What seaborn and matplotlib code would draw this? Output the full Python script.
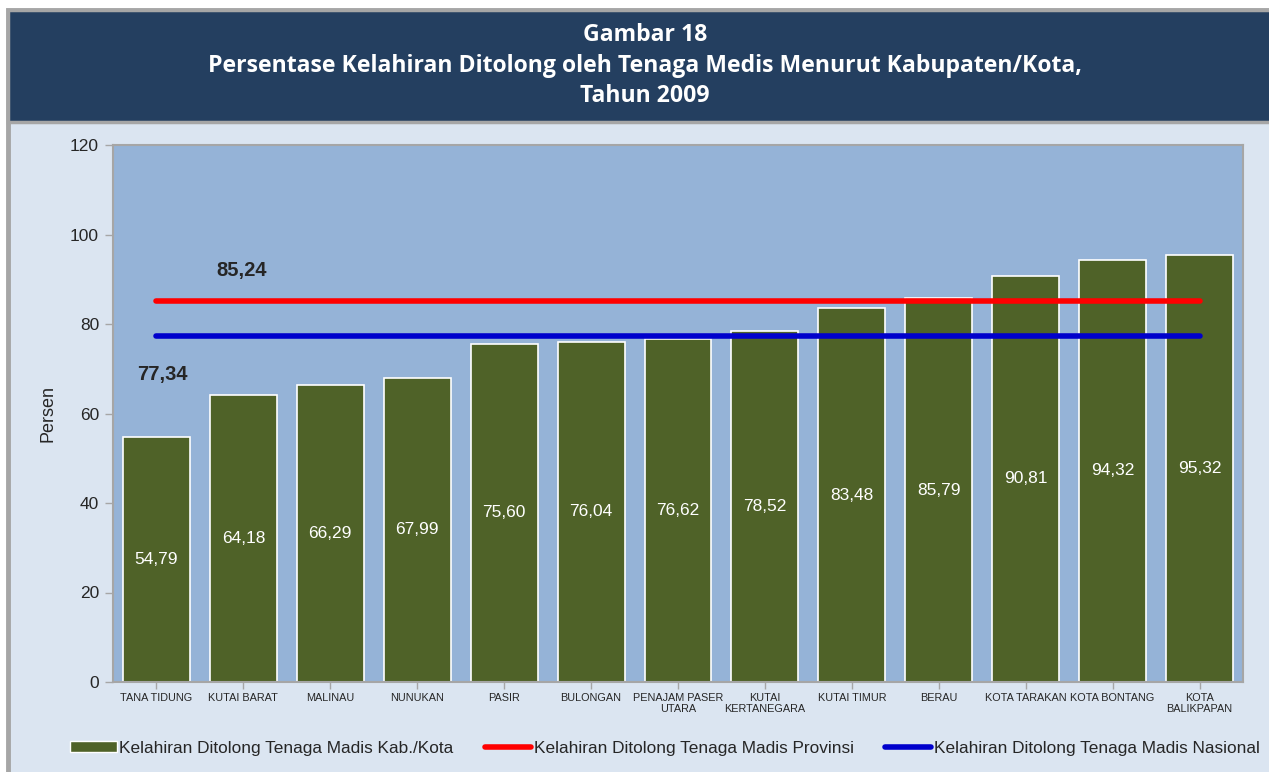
import matplotlib
matplotlib.use("Agg")
import matplotlib.pyplot as plt
import seaborn as sns
import pandas as pd
from matplotlib.patches import Rectangle, Patch
from matplotlib.lines import Line2D

categories = ["TANA TIDUNG", "KUTAI BARAT", "MALINAU", "NUNUKAN", "PASIR", "BULONGAN",
              "PENAJAM PASER\nUTARA", "KUTAI\nKERTANEGARA", "KUTAI TIMUR", "BERAU",
              "KOTA TARAKAN", "KOTA BONTANG", "KOTA\nBALIKPAPAN"]
values = [54.79, 64.18, 66.29, 67.99, 75.60, 76.04, 76.62, 78.52, 83.48, 85.79, 90.81, 94.32, 95.32]
provinsi = 85.24
nasional = 77.34
yticks = [0, 20, 40, 60, 80, 100, 120]

sns.set_theme(style="white")
plt.rcParams['font.family'] = ['Liberation Sans', 'DejaVu Sans']

W, H = 1269, 772
fig = plt.figure(figsize=(W / 100, H / 100), dpi=100)
fig.patch.set_facecolor("white")

# light background panel with gray border on left/top/bottom
fig.patches.append(Rectangle((8/W, -0.01), 1.05, 1 - 10/H + 0.01, transform=fig.transFigure,
                             facecolor="#DBE5F1", edgecolor="#A6A6A6", linewidth=3.5, zorder=-2))
fig.patches.append(Rectangle((8/W, 1 - 122/H), 1.05, 112/H, transform=fig.transFigure,
                             facecolor="#243F60", edgecolor="#A6A6A6", linewidth=2.5, zorder=-1))
title_lines = ["Gambar 18",
               "Persentase Kelahiran Ditolong oleh Tenaga Medis Menurut Kabupaten/Kota,",
               "Tahun 2009"]
for i, t in enumerate(title_lines):
    fig.text(645 / W, 1 - (35 + i * 30.5) / H, t, ha="center", va="center", color="white",
             fontsize=16.6, fontweight="bold", family=["Open Sans", "DejaVu Sans"])

ax = fig.add_axes([113/W, 1 - 682/H, (1243 - 113)/W, (682 - 145)/H])
ax.set_facecolor("#95B3D7")

df = pd.DataFrame({"cat": categories, "val": values})
sns.barplot(data=df, x="cat", y="val", ax=ax, color="#4F6228", width=0.77,
            edgecolor="white", linewidth=1.2, saturation=1)

n = len(categories)
ax.plot([0, n - 1], [provinsi, provinsi], color="#FF0000", linewidth=4, solid_capstyle="round", zorder=5)
ax.plot([0, n - 1], [nasional, nasional], color="#0000CC", linewidth=4, solid_capstyle="round", zorder=5)

for i, v in enumerate(values):
    ax.text(i, v / 2, f"{v:.2f}".replace(".", ","), ha="center", va="center", color="white", fontsize=12.5)

ax.text(0.98, 92, f"{provinsi:.2f}".replace(".", ","), ha="center", va="center", fontsize=14.5,
        fontweight="bold", color="#262626")
ax.text(0.07, 68.7, f"{nasional:.2f}".replace(".", ","), ha="center", va="center", fontsize=14.5,
        fontweight="bold", color="#262626")

ax.set_ylim(0, 120)
ax.set_xlim(-0.5, n - 0.5)
ax.set_yticks(yticks)
ax.set_yticklabels([str(t) for t in yticks], fontsize=12.5, color="#262626")
ax.set_xticks(range(n))
ax.set_xticklabels(categories, fontsize=7.8, color="#262626", linespacing=1.15)
ax.set_xlabel("")
ax.set_ylabel("Persen", fontsize=13, color="#262626", labelpad=10)
ax.tick_params(axis="y", length=6, color="#A6A6A6", width=1, left=True, pad=4)
ax.tick_params(axis="x", length=5, color="#A6A6A6", width=1, bottom=True, pad=3)
for s in ax.spines.values():
    s.set_color("#A6A6A6")
    s.set_linewidth(1.5)

handles = [Patch(facecolor="#4F6228", edgecolor="white", label="Kelahiran Ditolong Tenaga Madis Kab./Kota"),
           Line2D([], [], color="#FF0000", linewidth=4, label="Kelahiran Ditolong Tenaga Madis Provinsi"),
           Line2D([], [], color="#0000CC", linewidth=4, label="Kelahiran Ditolong Tenaga Madis Nasional")]
fig.legend(handles=handles, loc="center", bbox_to_anchor=(665 / W, 1 - 748/H), ncol=3, frameon=False,
           fontsize=12.4, handlelength=2.7, handleheight=0.6, handletextpad=0.15, columnspacing=1.8,
           labelcolor="#262626")

fig.savefig("out.png", dpi=100, facecolor=fig.get_facecolor())
